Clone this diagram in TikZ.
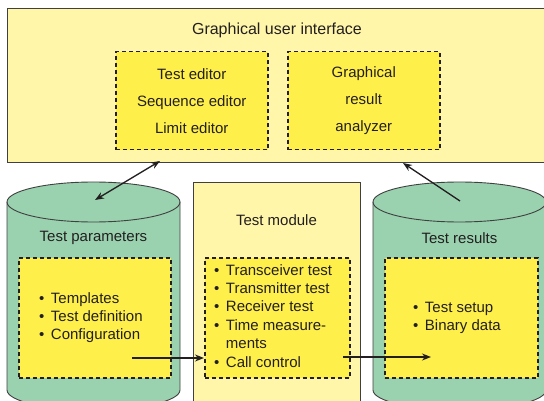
\documentclass[tikz,border=0pt]{standalone}
\usepackage{fontspec}
\setmainfont{Liberation Sans}
\usepackage{xcolor}
\usepackage{tikz}
\usetikzlibrary{arrows.meta,positioning}
\definecolor{pale}{RGB}{255,246,170}
\definecolor{hilite}{RGB}{255,239,74}
\definecolor{store}{RGB}{154,210,176}
\definecolor{edge}{RGB}{64,64,64}
\definecolor{ink}{RGB}{35,31,32}
\newcommand{\itm}{\textbullet\hspace{6.5pt}}

\begin{document}
\begin{tikzpicture}[x=1pt, y=-1pt, font=\fontsize{15}{18.4}\selectfont, text=ink,
  panel/.style={draw=edge, line width=0.9pt, fill=pale, anchor=north west, inner sep=0pt},
  dashbox/.style={draw=ink, line width=1.5pt, dash pattern=on 4pt off 3pt, fill=hilite, anchor=north west, inner sep=0pt},
  link/.style={-{Stealth[length=9pt,width=7pt]}, line width=1.3pt, ink},
  twolink/.style={{Stealth[length=9pt,width=7pt]}-{Stealth[length=9pt,width=7pt]}, line width=1.3pt, ink}]
  \useasboundingbox (0,0) rectangle (544,401);
  \clip (0,0) rectangle (544,401);
  % top panel
  \node[panel, minimum width=560pt, minimum height=154pt] (gui) at (7,8) {};
  \node[font=\fontsize{16}{19}\selectfont] (guititle) at (277,30) {Graphical user interface};
  \node[dashbox, minimum width=152pt, minimum height=98pt] (editors) at (115,51) {};
  \node[dashbox, minimum width=152pt, minimum height=98pt] (analyzer) at (287,51) {};
  \node[align=center, font=\fontsize{15}{27}\selectfont] at (editors.center) {Test editor\\Sequence editor\\Limit editor};
  \node[align=center, font=\fontsize{15}{27}\selectfont] at (analyzer.center) {Graphical\\result\\analyzer};
  % test parameters store
  \filldraw[fill=store, draw=edge, line width=0.9pt]
    (7,202) -- (7,390) arc[start angle=180, end angle=360, x radius=86.5, y radius=-20] -- (180,202)
    arc[start angle=0, end angle=180, x radius=86.5, y radius=-20] -- cycle;
  \draw[edge, line width=0.9pt] (7,202) arc[start angle=180, end angle=360, x radius=86.5, y radius=-20];
  \node (partitle) at (93.5,238) {Test parameters};
  \node[dashbox, minimum width=152pt, minimum height=120pt] (params) at (18,257) {};
  \node[anchor=north west, align=left, inner sep=0pt] (parlist) at (39,292)
    {\itm Templates\\\itm Test definition\\\itm Configuration};
  % test module
  \node[panel, minimum width=167pt, minimum height=240pt] (module) at (193,182) {};
  \node (modtitle) at (276.5,220) {Test module};
  \node[dashbox, minimum width=145pt, minimum height=120pt] (tests) at (204,257) {};
  \node[anchor=north west, align=left, inner sep=0pt] (testlist) at (214,264)
    {\itm Transceiver test\\\itm Transmitter test\\\itm Receiver test\\
     \itm Time measure-\\\hphantom{\itm}ments\\\itm Call control};
  % test results store
  \filldraw[fill=store, draw=edge, line width=0.9pt]
    (373,202) -- (373,390) arc[start angle=180, end angle=360, x radius=86.5, y radius=-20] -- (546,202)
    arc[start angle=0, end angle=180, x radius=86.5, y radius=-20] -- cycle;
  \draw[edge, line width=0.9pt] (373,202) arc[start angle=180, end angle=360, x radius=86.5, y radius=-20];
  \node (restitle) at (459.5,238) {Test results};
  \node[dashbox, minimum width=153pt, minimum height=120pt] (results) at (384,257) {};
  \node[anchor=north west, align=left, inner sep=0pt] (reslist) at (413,302)
    {\itm Test setup\\\itm Binary data};
  % connectors
  \coordinate (guiL) at (160,161);
  \coordinate (parTop) at (95,200);
  \coordinate (guiR) at (403,163);
  \coordinate (resTop) at (460,201);
  \coordinate (parOut) at (132,358);
  \coordinate (testIn) at (204,358);
  \coordinate (testOut) at (343,357);
  \coordinate (resIn) at (431,357);
  \draw[twolink] (parTop) -- (guiL);
  \draw[link] (resTop) -- (guiR);
  \draw[link] (parOut) -- (testIn);
  \draw[link] (testOut) -- (resIn);
\end{tikzpicture}
\end{document}
